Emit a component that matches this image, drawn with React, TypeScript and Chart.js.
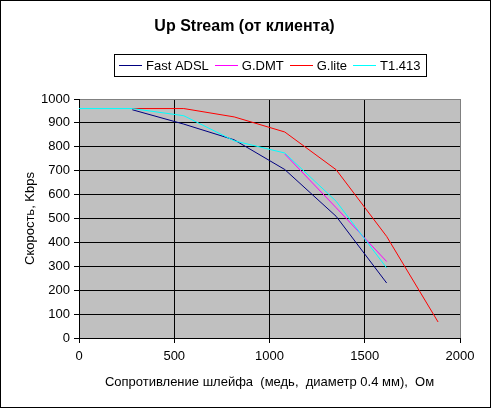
import { useEffect, useRef } from "react";
import { Chart, registerables } from "chart.js";

Chart.register(...registerables);

// Text
const chartTitle = "Up Stream (от клиента)";
const xAxisTitle = "Сопротивление шлейфа  (медь,  диаметр 0.4 мм),  Ом";
const yAxisTitle = "Скорость, Kbps";

// Series: loop resistance (Ohm) and upstream rate (Kbps)
const seriesNames = ["Fast ADSL", "G.DMT", "G.lite", "T1.413"];
const seriesColors = ["#000080", "#FF00FF", "#FF0000", "#00FFFF"];

const fastAdslOhm = [280, 550, 815, 1080, 1350, 1615];
const fastAdslKbps = [955, 895, 829, 705, 509, 230];

const gDmtOhm = [1080, 1350, 1615];
const gDmtKbps = [770, 545, 320];

const gLiteOhm = [280, 550, 815, 1080, 1350, 1615, 1885];
const gLiteKbps = [960, 960, 925, 862, 704, 425, 67];

const t1413Ohm = [0, 280, 550, 815, 1080, 1350, 1615];
const t1413Kbps = [960, 960, 930, 825, 774, 572, 293];

// Axis ranges
const xMin = 0;
const xMax = 2000;
const xStep = 500;
const yMin = 0;
const yMax = 1000;
const yStep = 100;

const FONT = "Arial, 'Liberation Sans', sans-serif";

const toPoints = (xs: number[], ys: number[]) => xs.map((x, i) => ({ x, y: ys[i] }));

const seriesPoints = [
  toPoints(fastAdslOhm, fastAdslKbps),
  toPoints(gDmtOhm, gDmtKbps),
  toPoints(gLiteOhm, gLiteKbps),
  toPoints(t1413Ohm, t1413Kbps),
];

const decorations = {
  id: "decorations",
  beforeDraw(chart: any) {
    const { ctx, chartArea: a, width, height } = chart;
    ctx.save();
    ctx.fillStyle = "#FFFFFF";
    ctx.fillRect(0, 0, width, height);
    ctx.fillStyle = "#C0C0C0";
    ctx.fillRect(a.left, a.top, a.right - a.left, a.bottom - a.top);
    ctx.restore();
  },
  afterDraw(chart: any) {
    const { ctx, chartArea: a, width, height } = chart;
    const cx = (a.left + a.right) / 2;
    ctx.save();

    // outer frame
    ctx.strokeStyle = "#000";
    ctx.lineWidth = 1;
    ctx.strokeRect(0.5, 0.5, width - 1, height - 1);

    // title
    ctx.fillStyle = "#000";
    ctx.font = `bold 16px ${FONT}`;
    ctx.textAlign = "center";
    ctx.textBaseline = "middle";
    ctx.fillText(chartTitle, width / 2 - 1, 27);

    // axis titles
    ctx.font = `13px ${FONT}`;
    ctx.fillText(xAxisTitle, cx, 382);
    ctx.save();
    ctx.translate(30, (a.top + a.bottom) / 2);
    ctx.rotate(-Math.PI / 2);
    ctx.fillText(yAxisTitle, 0, 0);
    ctx.restore();

    // legend
    const sample = 23;
    const gapAfterSample = 4;
    const gapAfterText = 6;
    const padX = 5;
    const labels: string[] = chart.data.datasets.map((d: any) => d.label);
    const widths = labels.map((l) => ctx.measureText(l).width);
    let total = 0;
    widths.forEach((w, i) => {
      total += sample + gapAfterSample + w + (i < widths.length - 1 ? gapAfterText : 0);
    });
    const boxW = Math.round(total + padX * 2);
    const boxLeft = Math.round(cx - boxW / 2);
    const boxTop = 54;
    const boxH = 22;
    const midY = boxTop + boxH / 2;
    ctx.strokeStyle = "#000";
    ctx.strokeRect(boxLeft + 0.5, boxTop + 0.5, boxW, boxH);
    let x = boxLeft + padX;
    ctx.textAlign = "left";
    labels.forEach((label, i) => {
      // key line
      ctx.fillStyle = seriesColors[i];
      ctx.fillRect(Math.round(x), Math.round(midY), sample, 1);
      x += sample + gapAfterSample;
      ctx.fillStyle = "#000";
      ctx.fillText(label, x, midY + 1);
      x += widths[i] + gapAfterText;
    });

    ctx.restore();
  },
};

export default function App() {
  const canvasRef = useRef<HTMLCanvasElement | null>(null);

  useEffect(() => {
    const canvas = canvasRef.current;
    if (!canvas) return;

    const chart = new Chart(canvas, {
      type: "line",
      data: {
        datasets: seriesNames.map((name, i) => ({
          label: name,
          data: seriesPoints[i],
          borderColor: seriesColors[i],
          backgroundColor: seriesColors[i],
          borderWidth: 1,
          pointRadius: 0,
          tension: 0,
          fill: false,
          order: seriesNames.length - i,
        })),
      },
      options: {
        responsive: false,
        animation: false,
        devicePixelRatio: 1,
        layout: { padding: { top: 99, right: 31, left: 0, bottom: 0 } },
        plugins: {
          legend: { display: false },
          title: { display: false },
          tooltip: { enabled: false },
        },
        scales: {
          x: {
            type: "linear",
            min: xMin,
            max: xMax,
            ticks: {
              stepSize: xStep,
              color: "#000",
              padding: 6,
              font: { family: FONT, size: 13 },
              callback: (v: any) => String(v),
            },
            grid: {
              color: (c: any) => (c.tick && c.tick.value === xMax ? "#808080" : "#000"),
              tickColor: "#000",
              lineWidth: 1,
              tickLength: 5,
            },
            border: { color: "#000", width: 1 },
            afterFit(scale: any) {
              scale.height = 70;
              scale.paddingLeft = 0;
              scale.paddingRight = 0;
            },
          },
          y: {
            type: "linear",
            min: yMin,
            max: yMax,
            ticks: {
              stepSize: yStep,
              color: "#000",
              padding: 4,
              font: { family: FONT, size: 13 },
              callback: (v: any) => String(v),
            },
            grid: {
              color: (c: any) => (c.tick && c.tick.value === yMax ? "#808080" : "#000"),
              tickColor: "#000",
              lineWidth: 1,
              tickLength: 5,
            },
            border: { color: "#000", width: 1 },
            afterFit(scale: any) {
              scale.width = 79;
              scale.paddingTop = 0;
              scale.paddingBottom = 0;
            },
          },
        },
      },
      plugins: [decorations],
    });

    return () => chart.destroy();
  }, []);

  return (
    <div style={{ position: "absolute", left: 0, top: 0, width: 491, height: 408 }}>
      <canvas ref={canvasRef} width={491} height={408} style={{ display: "block" }} />
    </div>
  );
}
